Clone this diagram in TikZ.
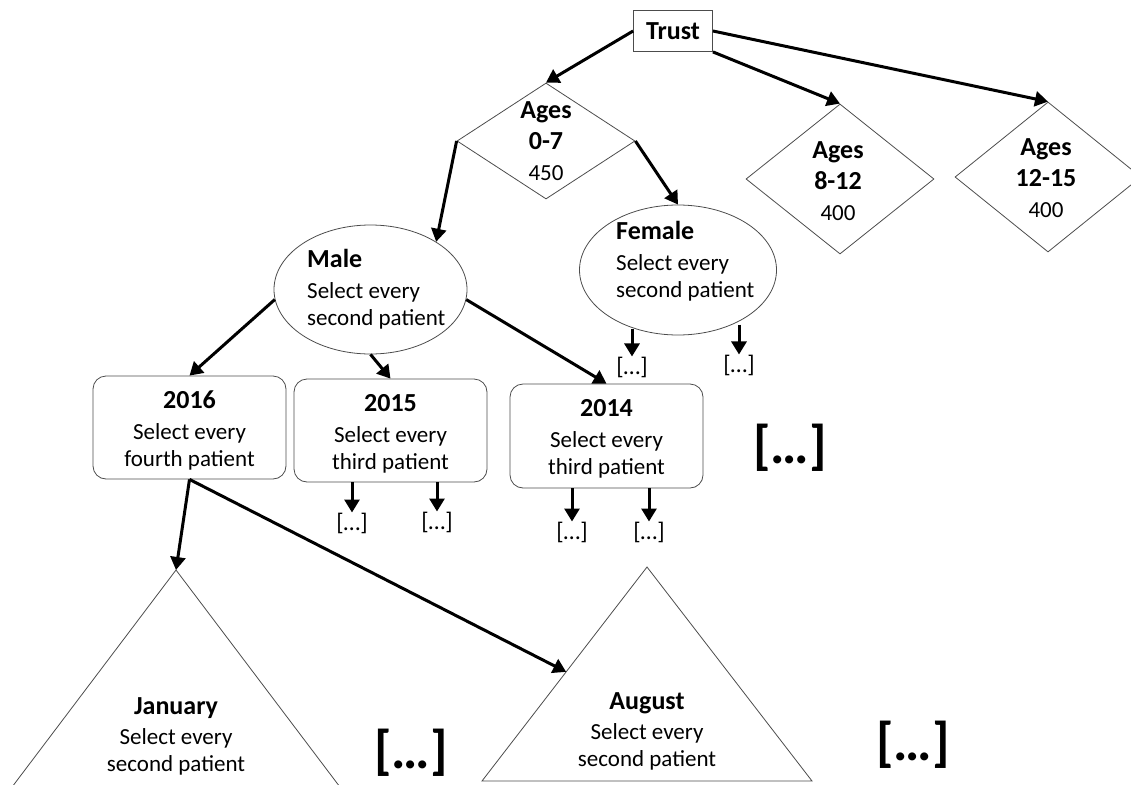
\documentclass[tikz,border=0pt]{standalone}
\usepackage{fontspec}
\setmainfont{Carlito}
\usetikzlibrary{shapes.geometric,arrows.meta,calc}
\newcommand\hd[1]{{\bfseries\fontsize{26}{31}\selectfont #1}}
\begin{document}
\begin{tikzpicture}[x=1pt,y=-1pt,
 shp/.style={draw=black!70, line width=0.8pt, inner sep=0pt},
 dia/.style={shp, diamond},
 ell/.style={shp, ellipse},
 rbox/.style={shp, rectangle, rounded corners=13pt, minimum width=193pt, minimum height=103pt},
 txt/.style={font=\fontsize{23}{27}\selectfont, align=center, inner sep=0pt},
 dtxt/.style={txt, font=\fontsize{23}{31}\selectfont},
 ltxt/.style={txt, align=left, anchor=west},
 dots/.style={font=\fontsize{24}{26}\selectfont, inner sep=0pt},
 bigdots/.style={font=\bfseries\fontsize{54}{60}\selectfont, inner sep=0pt},
 arr/.style={line width=3pt, -{Triangle[length=13pt,width=15pt]}},
 tri/.style={draw=black!70, line width=0.8pt},
]
\useasboundingbox (0,0) rectangle (1131,784);

% top
\node[shp, rectangle, minimum width=79pt, minimum height=41pt] (trust) at (673,31) {\hd{Trust}};

\node[dia, minimum width=178pt, minimum height=116pt] (a07) at (546,141) {};
\node[dtxt] (t07) at (546,141) {\hd{Ages}\\\hd{0-7}\\450};
\node[dia, minimum width=188pt, minimum height=150pt] (a812) at (840,179) {};
\node[dtxt] (t812) at (838,181) {\hd{Ages}\\\hd{8-12}\\400};
\node[dia, minimum width=186pt, minimum height=150pt] (a1215) at (1048,177) {};
\node[dtxt] (t1215) at (1046,178) {\hd{Ages}\\\hd{12-15}\\400};

% gender
\node[ell, minimum width=193pt, minimum height=129pt] (male) at (370.5,289.5) {};
\node[ltxt] (tmale) at (307,289) {\hd{Male}\\[4pt]Select every\\second patient};
\node[ell, minimum width=197pt, minimum height=130pt] (female) at (678,270) {};
\node[ltxt] (tfemale) at (616,261) {\hd{Female}\\[4pt]Select every\\second patient};

% years
\node[rbox] (y2016) at (189.5,427.5) {};
\node[txt] (t2016) at (189.5,430) {\hd{2016}\\[4pt]Select every\\fourth patient};
\node[rbox] (y2015) at (390.5,430.5) {};
\node[txt] (t2015) at (390.5,434) {\hd{2015}\\[4pt]Select every\\third patient};
\node[rbox, minimum height=104pt] (y2014) at (606.5,436) {};
\node[txt] (t2014) at (606.5,439) {\hd{2014}\\[4pt]Select every\\third patient};

% small ellipses
\node[dots] (f1) at (632,367) {[…]};
\node[dots] (f2) at (739,365) {[…]};
\node[dots] (d51) at (352,523) {[…]};
\node[dots] (d52) at (437,522) {[…]};
\node[dots] (d41) at (572,532) {[…]};
\node[dots] (d42) at (649,532) {[…]};

% big ellipses
\node[bigdots] (b1) at (790,448) {[…]};
\node[bigdots] (b2) at (411,753) {[…]};
\node[bigdots] (b3) at (913,745) {[…]};

% triangles
\coordinate (janA) at (176,570);
\coordinate (janL) at (6,795);
\coordinate (janR) at (346,795);
\draw[tri] (janL) -- (janA) -- (janR);
\node[txt] (tjan) at (176,736) {\hd{January}\\[3pt]Select every\\second patient};

\coordinate (augA) at (647,567);
\coordinate (augL) at (482,781);
\coordinate (augR) at (812,781);
\draw[tri] (augL) -- (augA) -- (augR) -- cycle;
\coordinate (augT) at ($(augA)!0.49!(augL)$);
\node[txt] (taug) at (647,731) {\hd{August}\\[3pt]Select every\\second patient};

% connectors
\draw[arr] (trust.west) -- (a07.north);
\draw[arr] (trust.south east) -- (a812.north);
\draw[arr] (trust.east) -- (a1215.north);
\draw[arr] (a07.west) -- (male.36);
\draw[arr] (a07.east) -- (female.north);
\draw[arr] (male.186) -- (y2016.north);
\draw[arr] (male.south) -- (y2015.north);
\draw[arr] (male.-6) -- (y2014.north);
\draw[arr] (y2016.south) -- (janA);
\draw[arr] (y2016.south) -- (augT);
\draw[arr] (female.235 -| f1) -- (f1.north);
\draw[arr] (female.315 -| f2) -- (f2.north);
\draw[arr] (y2015.south -| d51) -- (d51.north);
\draw[arr] (y2015.south -| d52) -- (d52.north);
\draw[arr] (y2014.south -| d41) -- (d41.north);
\draw[arr] (y2014.south -| d42) -- (d42.north);
\end{tikzpicture}
\end{document}
